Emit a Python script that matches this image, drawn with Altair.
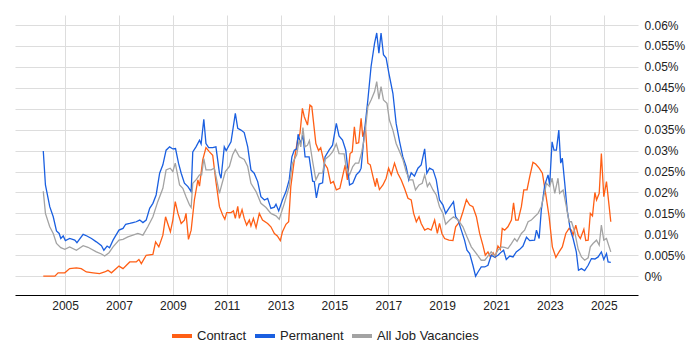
import altair as alt
import pandas as pd

# Permanent (blue)
perm_year = [2004.19, 2004.27, 2004.43, 2004.56, 2004.68, 2004.78, 2004.84, 2004.93, 2005.01, 2005.17,
             2005.36, 2005.44, 2005.67, 2005.81, 2005.98, 2006.16, 2006.35, 2006.44, 2006.56, 2006.65,
             2006.78, 2007.00, 2007.15, 2007.25, 2007.40, 2007.52, 2007.64, 2007.77, 2007.89, 2008.01,
             2008.14, 2008.26, 2008.38, 2008.51, 2008.63, 2008.75, 2008.88, 2009.00, 2009.10, 2009.21,
             2009.31, 2009.43, 2009.56, 2009.68, 2009.74, 2009.86, 2009.99, 2010.05, 2010.15, 2010.23,
             2010.33, 2010.48, 2010.60, 2010.73, 2010.79, 2010.91, 2010.98, 2011.16, 2011.32, 2011.41,
             2011.53, 2011.65, 2011.78, 2011.90, 2012.02, 2012.15, 2012.27, 2012.40, 2012.52, 2012.64,
             2012.77, 2012.83, 2012.93, 2013.07, 2013.20, 2013.32, 2013.42, 2013.51, 2013.60, 2013.65,
             2013.74, 2013.83, 2013.91, 2014.06, 2014.19, 2014.25, 2014.33, 2014.43, 2014.56, 2014.65,
             2014.80, 2014.93, 2015.07, 2015.17, 2015.30, 2015.42, 2015.56, 2015.68, 2015.81, 2015.93,
             2015.99, 2016.12, 2016.24, 2016.36, 2016.49, 2016.57, 2016.65, 2016.73, 2016.82, 2016.92,
             2017.02, 2017.17, 2017.29, 2017.42, 2017.54, 2017.66, 2017.76, 2017.85, 2017.97, 2018.10,
             2018.22, 2018.35, 2018.43, 2018.53, 2018.66, 2018.78, 2018.90, 2019.03, 2019.13, 2019.25,
             2019.42, 2019.50, 2019.59, 2019.71, 2019.83, 2019.92, 2020.02, 2020.14, 2020.24, 2020.33,
             2020.45, 2020.58, 2020.70, 2020.82, 2020.95, 2021.07, 2021.20, 2021.28, 2021.38, 2021.51,
             2021.63, 2021.75, 2021.88, 2022.00, 2022.13, 2022.25, 2022.43, 2022.50, 2022.60, 2022.68,
             2022.81, 2022.93, 2022.99, 2023.08, 2023.15, 2023.24, 2023.33, 2023.40, 2023.46, 2023.55,
             2023.64, 2023.76, 2023.86, 2023.98, 2024.06, 2024.17, 2024.29, 2024.42, 2024.54, 2024.67,
             2024.79, 2024.91, 2025.00, 2025.10, 2025.16, 2025.26]
perm_value = [0.0299, 0.0218, 0.0166, 0.0142, 0.0108, 0.0102, 0.0090, 0.0096, 0.0085, 0.0090,
              0.0086, 0.0080, 0.0100, 0.0096, 0.0090, 0.0082, 0.0073, 0.0062, 0.0072, 0.0068,
              0.0086, 0.0110, 0.0114, 0.0124, 0.0126, 0.0128, 0.0130, 0.0134, 0.0128, 0.0134,
              0.0162, 0.0174, 0.0194, 0.0246, 0.0266, 0.0301, 0.0309, 0.0304, 0.0305, 0.0270,
              0.0246, 0.0222, 0.0214, 0.0202, 0.0297, 0.0309, 0.0325, 0.0316, 0.0375, 0.0317,
              0.0307, 0.0307, 0.0309, 0.0246, 0.0234, 0.0309, 0.0300, 0.0321, 0.0389, 0.0353,
              0.0349, 0.0343, 0.0309, 0.0254, 0.0246, 0.0226, 0.0190, 0.0182, 0.0186, 0.0162,
              0.0165, 0.0172, 0.0156, 0.0182, 0.0202, 0.0230, 0.0285, 0.0301, 0.0304, 0.0339,
              0.0317, 0.0337, 0.0285, 0.0285, 0.0227, 0.0226, 0.0187, 0.0220, 0.0223, 0.0285,
              0.0301, 0.0313, 0.0365, 0.0335, 0.0325, 0.0301, 0.0218, 0.0222, 0.0242, 0.0250,
              0.0258, 0.0349, 0.0421, 0.0501, 0.0557, 0.0581, 0.0533, 0.0581, 0.0529, 0.0521,
              0.0485, 0.0437, 0.0365, 0.0321, 0.0285, 0.0262, 0.0230, 0.0247, 0.0239, 0.0258,
              0.0266, 0.0304, 0.0246, 0.0258, 0.0254, 0.0230, 0.0182, 0.0170, 0.0150, 0.0162,
              0.0178, 0.0142, 0.0134, 0.0110, 0.0086, 0.0062, 0.0054, 0.0026, 0.0000, 0.0010,
              0.0022, 0.0022, 0.0026, 0.0050, 0.0045, 0.0050, 0.0058, 0.0062, 0.0040, 0.0048,
              0.0046, 0.0058, 0.0064, 0.0072, 0.0093, 0.0085, 0.0086, 0.0110, 0.0090, 0.0158,
              0.0218, 0.0242, 0.0218, 0.0321, 0.0301, 0.0301, 0.0349, 0.0270, 0.0282, 0.0222,
              0.0158, 0.0110, 0.0090, 0.0058, 0.0014, 0.0018, 0.0013, 0.0026, 0.0042, 0.0041,
              0.0046, 0.0058, 0.0040, 0.0054, 0.0034, 0.0033]

# All Job Vacancies (grey)
all_year = [2004.19, 2004.27, 2004.43, 2004.56, 2004.68, 2004.84, 2004.99, 2005.17, 2005.42, 2005.67,
            2005.85, 2006.16, 2006.35, 2006.47, 2006.63, 2006.78, 2007.00, 2007.15, 2007.33, 2007.52,
            2007.70, 2007.89, 2008.07, 2008.26, 2008.44, 2008.63, 2008.75, 2008.90, 2009.00, 2009.09,
            2009.19, 2009.25, 2009.37, 2009.49, 2009.62, 2009.68, 2009.74, 2009.86, 2009.99, 2010.07,
            2010.15, 2010.23, 2010.42, 2010.54, 2010.73, 2010.83, 2010.95, 2011.10, 2011.22, 2011.32,
            2011.47, 2011.65, 2011.78, 2011.90, 2012.09, 2012.27, 2012.46, 2012.64, 2012.83, 2012.95,
            2013.14, 2013.32, 2013.44, 2013.60, 2013.69, 2013.75, 2013.83, 2013.91, 2014.00, 2014.07,
            2014.19, 2014.31, 2014.43, 2014.56, 2014.65, 2014.80, 2014.93, 2015.07, 2015.17, 2015.36,
            2015.43, 2015.56, 2015.68, 2015.78, 2015.90, 2015.99, 2016.12, 2016.24, 2016.36, 2016.49,
            2016.57, 2016.65, 2016.73, 2016.82, 2016.95, 2017.04, 2017.17, 2017.29, 2017.42, 2017.54,
            2017.66, 2017.79, 2017.91, 2018.01, 2018.14, 2018.26, 2018.35, 2018.45, 2018.53, 2018.66,
            2018.78, 2018.90, 2019.03, 2019.13, 2019.28, 2019.42, 2019.59, 2019.77, 2019.92, 2020.08,
            2020.27, 2020.45, 2020.58, 2020.70, 2020.82, 2020.95, 2021.07, 2021.20, 2021.32, 2021.44,
            2021.57, 2021.69, 2021.78, 2021.94, 2022.06, 2022.19, 2022.31, 2022.43, 2022.56, 2022.68,
            2022.81, 2022.87, 2022.99, 2023.08, 2023.18, 2023.30, 2023.36, 2023.49, 2023.61, 2023.71,
            2023.80, 2023.92, 2024.05, 2024.17, 2024.29, 2024.42, 2024.50, 2024.60, 2024.73, 2024.83,
            2024.91, 2025.00, 2025.10, 2025.26]
all_value = [0.0203, 0.0150, 0.0118, 0.0102, 0.0078, 0.0068, 0.0064, 0.0070, 0.0062, 0.0073,
             0.0069, 0.0058, 0.0053, 0.0048, 0.0056, 0.0070, 0.0086, 0.0088, 0.0094, 0.0098,
             0.0102, 0.0098, 0.0118, 0.0142, 0.0178, 0.0210, 0.0254, 0.0258, 0.0250, 0.0270,
             0.0238, 0.0218, 0.0210, 0.0190, 0.0170, 0.0164, 0.0222, 0.0230, 0.0242, 0.0242,
             0.0281, 0.0254, 0.0254, 0.0258, 0.0198, 0.0222, 0.0250, 0.0262, 0.0290, 0.0303,
             0.0285, 0.0279, 0.0262, 0.0222, 0.0202, 0.0174, 0.0164, 0.0150, 0.0144, 0.0136,
             0.0174, 0.0214, 0.0270, 0.0290, 0.0325, 0.0309, 0.0355, 0.0309, 0.0313, 0.0324,
             0.0274, 0.0230, 0.0246, 0.0247, 0.0279, 0.0287, 0.0297, 0.0316, 0.0293, 0.0292,
             0.0262, 0.0242, 0.0262, 0.0270, 0.0270, 0.0290, 0.0333, 0.0405, 0.0421, 0.0441,
             0.0465, 0.0423, 0.0453, 0.0421, 0.0413, 0.0373, 0.0349, 0.0317, 0.0297, 0.0279,
             0.0250, 0.0230, 0.0230, 0.0206, 0.0218, 0.0222, 0.0242, 0.0214, 0.0223, 0.0206,
             0.0194, 0.0166, 0.0150, 0.0124, 0.0134, 0.0142, 0.0134, 0.0118, 0.0094, 0.0070,
             0.0054, 0.0038, 0.0038, 0.0048, 0.0058, 0.0048, 0.0062, 0.0070, 0.0069, 0.0066,
             0.0078, 0.0090, 0.0083, 0.0102, 0.0110, 0.0130, 0.0134, 0.0142, 0.0150, 0.0166,
             0.0202, 0.0222, 0.0214, 0.0234, 0.0198, 0.0234, 0.0198, 0.0206, 0.0166, 0.0130,
             0.0130, 0.0106, 0.0064, 0.0046, 0.0038, 0.0044, 0.0070, 0.0078, 0.0086, 0.0074,
             0.0122, 0.0086, 0.0090, 0.0058]

# Contract (orange)
contract_year = [2004.19, 2004.62, 2004.74, 2004.99, 2005.17, 2005.42, 2005.60, 2005.79, 2006.04, 2006.28,
                 2006.47, 2006.59, 2006.72, 2007.00, 2007.15, 2007.40, 2007.64, 2007.74, 2007.83, 2008.01,
                 2008.26, 2008.36, 2008.48, 2008.63, 2008.73, 2008.81, 2008.91, 2009.00, 2009.09, 2009.19,
                 2009.31, 2009.43, 2009.49, 2009.58, 2009.68, 2009.80, 2009.93, 2009.99, 2010.11, 2010.23,
                 2010.36, 2010.48, 2010.60, 2010.73, 2010.85, 2010.93, 2011.00, 2011.16, 2011.25, 2011.32,
                 2011.41, 2011.47, 2011.57, 2011.65, 2011.74, 2011.84, 2011.90, 2011.99, 2012.09, 2012.21,
                 2012.33, 2012.52, 2012.64, 2012.77, 2012.88, 2012.99, 2013.07, 2013.20, 2013.30, 2013.38,
                 2013.51, 2013.63, 2013.72, 2013.81, 2013.88, 2014.00, 2014.09, 2014.16, 2014.31, 2014.41,
                 2014.49, 2014.62, 2014.74, 2014.86, 2014.96, 2015.07, 2015.20, 2015.30, 2015.40, 2015.48,
                 2015.58, 2015.66, 2015.74, 2015.81, 2015.90, 2015.99, 2016.05, 2016.15, 2016.24, 2016.33,
                 2016.43, 2016.52, 2016.57, 2016.67, 2016.80, 2016.92, 2017.01, 2017.11, 2017.23, 2017.35,
                 2017.48, 2017.60, 2017.73, 2017.85, 2017.94, 2018.04, 2018.14, 2018.22, 2018.35, 2018.47,
                 2018.59, 2018.72, 2018.82, 2018.90, 2018.99, 2019.09, 2019.25, 2019.40, 2019.50, 2019.65,
                 2019.77, 2019.90, 2020.02, 2020.14, 2020.27, 2020.39, 2020.51, 2020.60, 2020.70, 2020.79,
                 2020.89, 2020.97, 2021.07, 2021.16, 2021.23, 2021.32, 2021.44, 2021.57, 2021.65, 2021.73,
                 2021.82, 2021.94, 2022.03, 2022.15, 2022.25, 2022.37, 2022.47, 2022.60, 2022.72, 2022.84,
                 2022.97, 2023.09, 2023.22, 2023.34, 2023.46, 2023.59, 2023.71, 2023.80, 2023.86, 2023.96,
                 2024.05, 2024.13, 2024.26, 2024.33, 2024.42, 2024.50, 2024.58, 2024.67, 2024.73, 2024.83,
                 2024.91, 2025.00, 2025.10, 2025.20, 2025.26]
contract_value = [0.0000, 0.0000, 0.0008, 0.0008, 0.0018, 0.0020, 0.0018, 0.0010, 0.0008, 0.0006,
                  0.0010, 0.0014, 0.0008, 0.0024, 0.0018, 0.0034, 0.0034, 0.0040, 0.0030, 0.0050,
                  0.0052, 0.0082, 0.0070, 0.0098, 0.0142, 0.0126, 0.0106, 0.0134, 0.0178, 0.0150,
                  0.0126, 0.0134, 0.0150, 0.0088, 0.0110, 0.0182, 0.0230, 0.0215, 0.0278, 0.0307,
                  0.0297, 0.0289, 0.0226, 0.0166, 0.0146, 0.0136, 0.0152, 0.0152, 0.0156, 0.0138,
                  0.0167, 0.0138, 0.0159, 0.0138, 0.0122, 0.0134, 0.0120, 0.0138, 0.0116, 0.0150,
                  0.0134, 0.0126, 0.0118, 0.0102, 0.0096, 0.0085, 0.0106, 0.0124, 0.0130, 0.0214,
                  0.0278, 0.0325, 0.0341, 0.0401, 0.0381, 0.0361, 0.0409, 0.0405, 0.0317, 0.0300,
                  0.0307, 0.0270, 0.0258, 0.0222, 0.0226, 0.0206, 0.0210, 0.0238, 0.0266, 0.0230,
                  0.0293, 0.0297, 0.0357, 0.0317, 0.0319, 0.0377, 0.0333, 0.0357, 0.0270, 0.0266,
                  0.0238, 0.0214, 0.0234, 0.0207, 0.0218, 0.0234, 0.0258, 0.0242, 0.0270, 0.0246,
                  0.0230, 0.0210, 0.0186, 0.0182, 0.0150, 0.0130, 0.0142, 0.0126, 0.0110, 0.0114,
                  0.0110, 0.0134, 0.0102, 0.0126, 0.0102, 0.0090, 0.0086, 0.0085, 0.0118, 0.0130,
                  0.0154, 0.0183, 0.0170, 0.0166, 0.0142, 0.0102, 0.0074, 0.0050, 0.0058, 0.0046,
                  0.0056, 0.0046, 0.0072, 0.0064, 0.0114, 0.0110, 0.0118, 0.0134, 0.0175, 0.0134,
                  0.0134, 0.0166, 0.0206, 0.0206, 0.0238, 0.0272, 0.0268, 0.0258, 0.0246, 0.0198,
                  0.0142, 0.0070, 0.0045, 0.0058, 0.0070, 0.0102, 0.0114, 0.0110, 0.0098, 0.0122,
                  0.0098, 0.0090, 0.0112, 0.0085, 0.0086, 0.0150, 0.0144, 0.0200, 0.0182, 0.0198,
                  0.0293, 0.0190, 0.0226, 0.0166, 0.0130]

series_names = ["Contract", "Permanent", "All Job Vacancies"]
series_colors = ["#FF5F15", "#1A5FE0", "#A3A3A3"]
x_ticks = [2005, 2007, 2009, 2011, 2013, 2015, 2017, 2019, 2021, 2023, 2025]
y_ticks = [0, 0.005, 0.01, 0.015, 0.02, 0.025, 0.03, 0.035, 0.04, 0.045, 0.05, 0.055, 0.06]

frames = []
for name, ys, vs in [("Contract", contract_year, contract_value),
                     ("Permanent", perm_year, perm_value),
                     ("All Job Vacancies", all_year, all_value)]:
    frames.append(pd.DataFrame({"year": ys, "value": vs, "series": name}))
df = pd.concat(frames, ignore_index=True)

FONT = "Liberation Sans"

chart = alt.Chart(df).mark_line(strokeWidth=1.3, clip=True).encode(
    x=alt.X("year:Q",
            scale=alt.Scale(domain=[2003.14, 2026.27], nice=False, zero=False),
            axis=alt.Axis(values=x_ticks, format="d", title=None, grid=True,
                          gridColor="#dddddd", domainColor="#000000", domainWidth=1.2,
                          ticks=False, labelPadding=5, labelFontSize=12, labelFont=FONT,
                          labelColor="#222222")),
    y=alt.Y("value:Q",
            scale=alt.Scale(domain=[-0.0045, 0.0624], nice=False, zero=False),
            axis=alt.Axis(orient="right", values=y_ticks, format=".3~f",
                          labelExpr="datum.label + '%'", title=None, grid=True,
                          gridColor="#dddddd", domain=False, ticks=False,
                          labelPadding=6, labelFontSize=12, labelFont=FONT,
                          labelColor="#222222")),
    color=alt.Color("series:N",
                    scale=alt.Scale(domain=series_names, range=series_colors),
                    sort=series_names,
                    legend=alt.Legend(title=None, orient="none", direction="horizontal",
                                      legendX=155, legendY=309, symbolType="stroke",
                                      symbolStrokeWidth=4, symbolSize=400,
                                      labelFontSize=13, labelFont=FONT, labelColor="#222222",
                                      labelOffset=3, columnPadding=0, padding=0)),
).properties(
    width=623, height=280,
    padding={"left": 7, "top": 7, "right": 5, "bottom": 5},
).configure_view(stroke=None)

chart.save("out.html", embed_options={"renderer": "svg", "actions": False})
